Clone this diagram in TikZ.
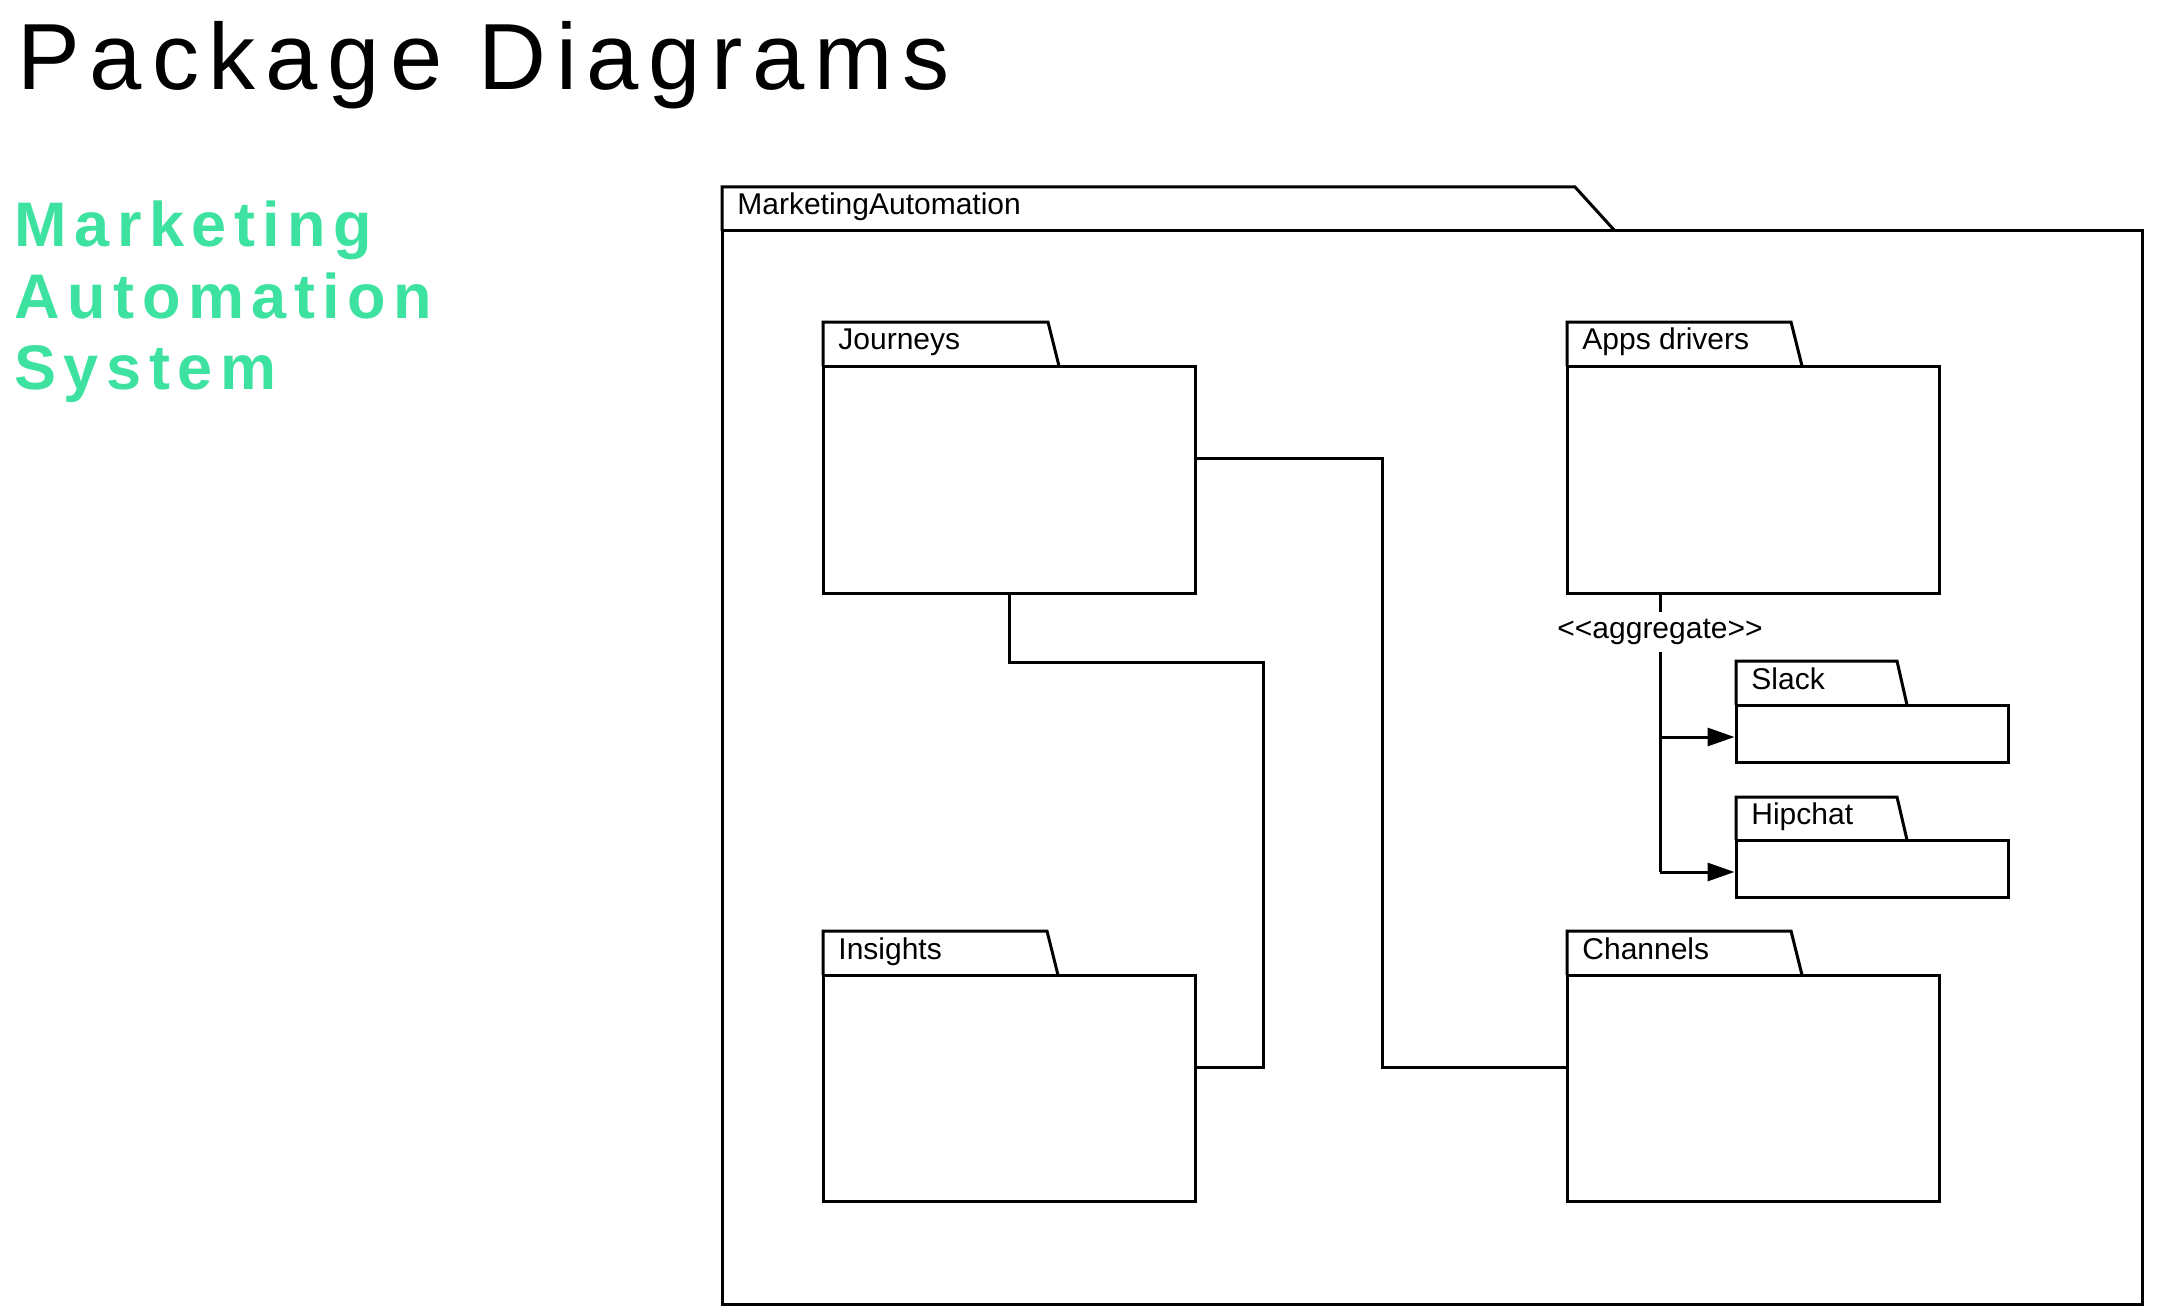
\documentclass[tikz,border=0pt]{standalone}
\usepackage{fontspec}
\setmainfont{Liberation Sans}
\newfontfamily\titlefont[LetterSpace=10.5]{Liberation Sans}
\newfontfamily\greenfont[LetterSpace=12]{Liberation Sans}
\usetikzlibrary{fit,arrows.meta,calc}
\definecolor{mint}{RGB}{61,226,160}
\tikzset{
  pkgline/.style={line width=1.5pt, line join=miter},
  pkgbody/.style={draw, line width=1.5pt, inner sep=0pt},
  pkglabel/.style={anchor=base west, inner sep=0pt, font=\fontsize{15}{18}\selectfont},
  conn/.style={line width=1.5pt},
  arr/.style={line width=1.5pt, -{Triangle[length=13.5pt,width=9pt]}},
  greentxt/.style={anchor=base west, inner sep=0pt, text=mint, font=\greenfont\bfseries\fontsize{31.5}{36}\selectfont}
}
% name, x1, ytab, ybody, x2, ybottom, tab top right, tab bottom right, label
\newcommand{\pkgdraw}[9]{%
  \node[fit={(#2,#4)(#5,#6)}, pkgbody] (#1) {};
  \draw[pkgline] (#2,#4) -- (#2,#3) -- (#7,#3) -- (#8,#4);
  \node[pkglabel] (#1-lbl) at (#2+15,#4-16) {#9};
}
\begin{document}
\begin{tikzpicture}[x=0.5pt,y=-0.5pt]
\useasboundingbox[fill=white] (0,0) rectangle (2157,1316);
\node[anchor=base west, inner sep=0pt, font=\titlefont\fontsize{47}{50}\selectfont] (title) at (17,90) {Package Diagrams};
\node[greentxt] (g1) at (14,247) {Marketing};
\node[greentxt] (g2) at (14,318) {Automation};
\node[greentxt] (g3) at (14,389) {System};

\pkgdraw{outer}{722}{187}{231}{2142}{1304}{1575}{1615}{MarketingAutomation}
\pkgdraw{jour}{823}{322}{366}{1195}{593}{1048}{1059}{Journeys}
\pkgdraw{apps}{1567}{322}{366}{1939}{593}{1791}{1802}{Apps drivers}
\pkgdraw{ins}{823}{931}{975}{1195}{1201}{1047}{1058}{Insights}
\pkgdraw{chan}{1567}{931}{975}{1939}{1201}{1791}{1802}{Channels}
\pkgdraw{slack}{1736}{661}{705}{2008}{762}{1897}{1907}{Slack}
\pkgdraw{hip}{1736}{797}{840}{2008}{897}{1897}{1907}{Hipchat}

% connectors
\draw[conn] (jour.east |- 0,458) -| (1382,1067) -- (chan.west |- 0,1067);
\draw[conn] (jour.south) |- (1263,662) |- (ins.east |- 0,1067);

\node[inner sep=0pt, minimum height=19.5pt, font=\fontsize{15}{18}\selectfont] (agg) at (1660,632) {<{}<aggregate>{}>};
\draw[conn] (apps.south -| agg) -- (agg.north);
\draw[conn] (agg.south) -- (1660,872);
\draw[arr] (1660,737) -- (slack.west |- 0,737);
\draw[arr] (1660,872) -- (hip.west |- 0,872);
\end{tikzpicture}
\end{document}
